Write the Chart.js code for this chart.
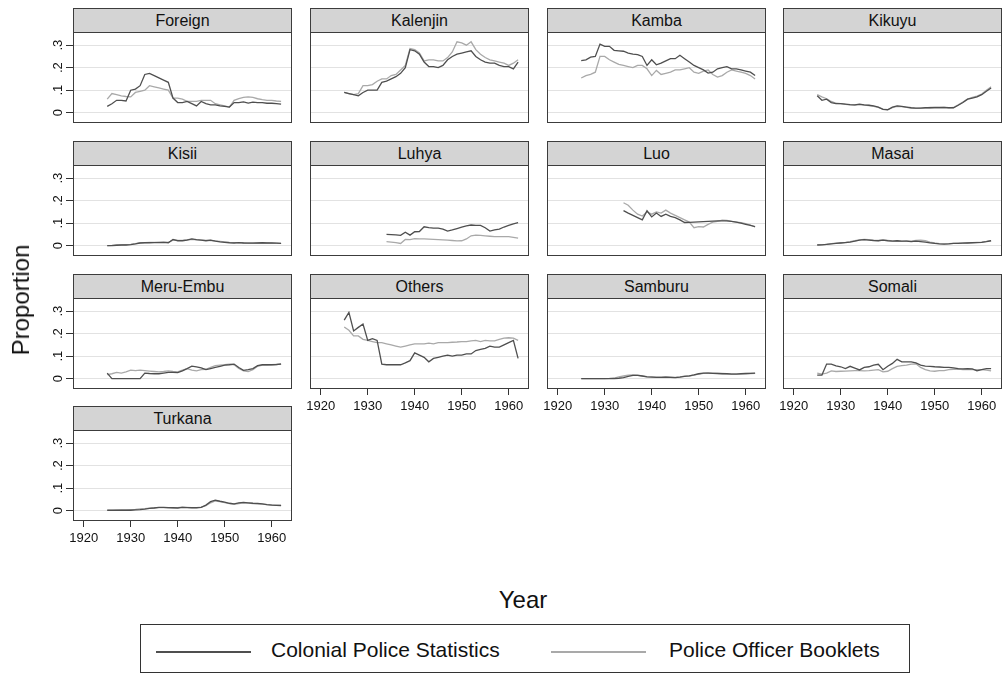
<!DOCTYPE html>
<html><head><meta charset="utf-8">
<script src="https://cdn.jsdelivr.net/npm/chart.js@4.4.0/dist/chart.umd.min.js"></script>
<style>
body{margin:0;background:#fff;width:1005px;height:675px;overflow:hidden;position:relative;font-family:"Liberation Sans",Arial,Helvetica,sans-serif;color:#111;}
.hdr{position:absolute;box-sizing:border-box;background:#d4d4d4;border:1px solid #3c3c3c;text-align:center;font-size:16px;line-height:23px;color:#111;}
canvas{position:absolute;}
.ttl{position:absolute;font-size:24px;white-space:nowrap;line-height:28px;}
#legend{position:absolute;left:140px;top:624px;width:770px;height:49px;border:1px solid #333;box-sizing:border-box;}
.sw{position:absolute;height:2px;}
.lt{position:absolute;font-size:21px;top:13px;white-space:nowrap;}
</style>
</head><body>
<script>
// ---------------- data ----------------
const years = [1925,1926,1927,1928,1929,1930,1931,1932,1933,1934,1935,1936,1937,1938,1939,1940,1941,1942,1943,1944,1945,1946,1947,1948,1949,1950,1951,1952,1953,1954,1955,1956,1957,1958,1959,1960,1961,1962];
const panelNames = ["Foreign","Kalenjin","Kamba","Kikuyu","Kisii","Luhya","Luo","Masai","Meru-Embu","Others","Samburu","Somali","Turkana"];
const seriesNames = ["Colonial Police Statistics","Police Officer Booklets"];
const xTickValues = [1920,1930,1940,1950,1960];
const xTickLabels = ["1920","1930","1940","1950","1960"];
const yTickValues = [0,0.1,0.2,0.3];
const yTickLabels = ["0",".1",".2",".3"];
const xTitle = "Year";
const yTitle = "Proportion";

const foreignCPS = [.028,.04,.055,.055,.052,.10,.105,.12,.17,.175,.165,.155,.145,.135,.065,.045,.045,.05,.04,.03,.05,.04,.035,.035,.03,.028,.025,.045,.045,.048,.043,.047,.045,.045,.042,.042,.04,.038];
const foreignPOB = [.06,.085,.08,.075,.072,.07,.09,.095,.10,.12,.115,.11,.105,.10,.065,.065,.06,.05,.05,.05,.055,.055,.055,.04,.035,.03,.025,.055,.062,.068,.07,.068,.062,.058,.055,.055,.052,.05];
const kalenjinCPS = [.09,.085,.08,.075,.09,.10,.10,.10,.135,.14,.15,.16,.175,.20,.28,.275,.26,.225,.205,.205,.20,.21,.235,.25,.26,.265,.27,.275,.25,.235,.225,.22,.22,.21,.205,.205,.195,.225];
const kalenjinPOB = [.09,.085,.08,.085,.12,.12,.125,.14,.15,.15,.165,.17,.19,.21,.285,.28,.265,.23,.235,.235,.23,.23,.245,.27,.315,.31,.30,.315,.28,.26,.245,.235,.23,.225,.22,.21,.22,.235];
const kambaCPS = [.231,.235,.247,.25,.305,.295,.295,.277,.275,.273,.265,.26,.258,.25,.21,.235,.213,.22,.23,.24,.24,.255,.24,.225,.21,.20,.19,.176,.18,.195,.20,.205,.195,.195,.19,.185,.18,.165];
const kambaPOB = [.154,.165,.17,.18,.25,.25,.235,.225,.215,.21,.205,.20,.21,.21,.195,.165,.188,.17,.175,.18,.19,.19,.195,.20,.18,.175,.185,.19,.17,.158,.165,.18,.19,.185,.18,.175,.165,.15];
const kikuyuCPS = [.075,.055,.06,.045,.04,.04,.038,.036,.035,.038,.035,.033,.03,.025,.015,.013,.025,.03,.028,.025,.022,.02,.02,.022,.022,.023,.023,.024,.022,.022,.033,.045,.06,.065,.07,.08,.095,.11];
const kikuyuPOB = [.08,.07,.062,.05,.042,.04,.037,.035,.034,.036,.034,.032,.028,.024,.016,.014,.022,.028,.027,.024,.02,.019,.02,.021,.023,.022,.022,.023,.021,.023,.035,.047,.06,.068,.074,.083,.10,.115];
const kisiiCPS = [0,0,.002,.003,.003,.005,.008,.012,.013,.013,.014,.014,.015,.013,.028,.022,.022,.025,.03,.027,.025,.022,.025,.02,.017,.015,.013,.012,.014,.012,.011,.011,.012,.013,.012,.012,.011,.01];
const kisiiPOB = [0,.001,.003,.004,.005,.006,.009,.013,.014,.015,.015,.016,.016,.015,.025,.024,.024,.027,.028,.026,.025,.024,.023,.021,.019,.017,.015,.014,.013,.013,.012,.012,.012,.012,.012,.011,.011,.01];
const luhyaCPS = [null,null,null,null,null,null,null,null,null,.05,.049,.048,.046,.06,.047,.062,.063,.084,.08,.078,.078,.074,.065,.07,.076,.082,.088,.092,.09,.09,.08,.065,.07,.074,.083,.09,.097,.102];
const luhyaPOB = [null,null,null,null,null,null,null,null,null,.018,.016,.014,.01,.028,.027,.031,.03,.03,.029,.028,.027,.026,.025,.023,.021,.022,.03,.044,.047,.046,.044,.042,.04,.04,.04,.04,.037,.034];
const luoCPS = [null,null,null,null,null,null,null,null,null,.156,.145,.135,.125,.115,.155,.128,.145,.13,.14,.13,.125,.115,.103,.104,.105,.106,.107,.108,.109,.11,.11,.11,.108,.105,.10,.095,.09,.085];
const luoPOB = [null,null,null,null,null,null,null,null,null,.191,.18,.158,.14,.132,.15,.14,.15,.145,.158,.145,.135,.125,.115,.105,.08,.085,.083,.095,.105,.108,.114,.112,.108,.105,.102,.098,.092,.083];
const masaiCPS = [.003,.004,.006,.008,.01,.012,.014,.016,.02,.025,.027,.025,.023,.022,.025,.022,.02,.022,.02,.02,.018,.02,.018,.016,.013,.01,.008,.007,.008,.01,.01,.011,.012,.013,.014,.015,.018,.022];
const masaiPOB = [.004,.005,.006,.009,.011,.013,.015,.018,.022,.026,.028,.027,.024,.023,.026,.024,.021,.02,.019,.021,.02,.024,.025,.022,.016,.012,.009,.008,.009,.01,.011,.012,.013,.014,.015,.016,.019,.023];
const meruCPS = [.025,0,0,0,0,0,0,0,.025,.023,.022,.022,.025,.028,.028,.027,.035,.045,.056,.053,.048,.04,.045,.05,.055,.06,.062,.065,.05,.037,.04,.045,.058,.062,.062,.062,.063,.065];
const meruPOB = [.018,.022,.028,.025,.03,.038,.036,.038,.036,.034,.032,.03,.032,.035,.032,.03,.038,.045,.038,.035,.04,.042,.05,.058,.06,.062,.065,.062,.045,.035,.032,.04,.055,.06,.06,.062,.063,.067];
const othersCPS = [.26,.295,.212,.228,.243,.17,.178,.17,.065,.062,.062,.062,.062,.07,.08,.115,.105,.095,.075,.09,.095,.10,.105,.10,.105,.105,.11,.11,.125,.13,.135,.145,.14,.14,.15,.16,.17,.09];
const othersPOB = [.23,.215,.19,.19,.175,.17,.165,.16,.16,.155,.15,.145,.14,.145,.15,.155,.155,.155,.158,.155,.16,.16,.16,.162,.163,.165,.165,.168,.17,.165,.17,.168,.168,.175,.18,.182,.18,.17];
const samburuCPS = [0,0,0,0,0,0,0,0,.002,.005,.01,.015,.015,.012,.008,.007,.006,.006,.007,.006,.005,.007,.01,.013,.017,.022,.025,.025,.024,.023,.022,.022,.02,.02,.022,.023,.024,.025];
const samburuPOB = [0,0,0,0,0,0,.001,.003,.008,.012,.016,.017,.016,.012,.009,.008,.007,.007,.008,.007,.006,.008,.011,.012,.016,.02,.024,.026,.025,.024,.023,.022,.021,.021,.021,.022,.023,.024];
const somaliCPS = [.016,.016,.065,.065,.057,.053,.045,.055,.047,.039,.05,.053,.06,.064,.04,.055,.068,.086,.075,.075,.075,.07,.06,.056,.055,.053,.052,.05,.05,.048,.045,.044,.045,.044,.035,.04,.045,.045];
const somaliPOB = [.025,.02,.025,.035,.032,.033,.034,.035,.036,.036,.035,.036,.038,.04,.03,.033,.045,.055,.058,.06,.065,.066,.05,.04,.035,.033,.036,.036,.04,.042,.043,.04,.04,.04,.04,.04,.038,.035];
const turkanaCPS = [.002,.002,.002,.002,.002,.002,.004,.005,.007,.01,.012,.015,.015,.014,.013,.012,.015,.014,.013,.013,.015,.025,.04,.047,.042,.038,.033,.03,.035,.037,.035,.033,.032,.03,.027,.025,.024,.023];
const turkanaPOB = [.001,.001,.002,.003,.004,.005,.006,.008,.009,.011,.013,.014,.014,.013,.013,.014,.016,.015,.014,.014,.016,.022,.035,.043,.04,.036,.031,.028,.032,.035,.034,.032,.031,.029,.027,.026,.025,.024];

const panelSeries = [
  [foreignCPS, foreignPOB],[kalenjinCPS, kalenjinPOB],[kambaCPS, kambaPOB],[kikuyuCPS, kikuyuPOB],
  [kisiiCPS, kisiiPOB],[luhyaCPS, luhyaPOB],[luoCPS, luoPOB],[masaiCPS, masaiPOB],
  [meruCPS, meruPOB],[othersCPS, othersPOB],[samburuCPS, samburuPOB],[somaliCPS, somaliPOB],
  [turkanaCPS, turkanaPOB]
];

// ---------------- layout / style ----------------
const FONT = '"Liberation Sans", Arial, Helvetica, sans-serif';
const colLeft = [73, 310, 547, 783];
const rowTop = [8, 141, 274, 406];
const plotW = 219, hdrH = 24, plotH = 91;
const AX_L = 40, AX_B = 30, PAD_R = 20;
const xMin = 1917.72, xMax = 1964.32;
const yMin = -0.0458, yMax = 0.3586;
const lineColors = ['#4f4f4f', '#a9a9a9'];

const framePlugin = {
  id: 'frame',
  afterDraw(c) {
    const a = c.chartArea, ctx = c.ctx;
    ctx.save();
    ctx.strokeStyle = '#3c3c3c';
    ctx.lineWidth = 1;
    ctx.strokeRect(Math.round(a.left) + 0.5, Math.round(a.top) + 0.5, Math.round(a.right - a.left) - 1, Math.round(a.bottom - a.top) - 1);
    ctx.restore();
  }
};

panelNames.forEach((name, i) => {
  const col = i % 4, row = Math.floor(i / 4);
  const left = colLeft[col], top = rowTop[row];
  const bottomPanel = (row === 2 && col > 0) || row === 3;
  const leftPanel = col === 0;

  const h = document.createElement('div');
  h.className = 'hdr';
  h.style.left = left + 'px';
  h.style.top = top + 'px';
  h.style.width = plotW + 'px';
  h.style.height = (hdrH + 1) + 'px';
  h.textContent = name;
  document.body.appendChild(h);

  const cv = document.createElement('canvas');
  const cw = AX_L + plotW + PAD_R, ch = plotH + 1 + AX_B;
  cv.width = cw; cv.height = ch;
  cv.style.width = cw + 'px'; cv.style.height = ch + 'px';
  cv.style.left = (left - AX_L) + 'px';
  cv.style.top = (top + hdrH - 1) + 'px';
  document.body.appendChild(cv);

  const [cps, pob] = panelSeries[i];
  new Chart(cv, {
    type: 'line',
    data: {
      datasets: [
        { label: seriesNames[0], data: years.map((y, k) => ({x: y, y: cps[k]})), borderColor: lineColors[0], borderWidth: 1.3, pointRadius: 0, tension: 0, spanGaps: false },
        { label: seriesNames[1], data: years.map((y, k) => ({x: y, y: pob[k]})), borderColor: lineColors[1], borderWidth: 1.3, pointRadius: 0, tension: 0, spanGaps: false }
      ]
    },
    options: {
      responsive: false, animation: false, devicePixelRatio: 1,
      layout: { padding: { top: 1, right: PAD_R, left: 0, bottom: 0 } },
      plugins: { legend: { display: false }, tooltip: { enabled: false } },
      scales: {
        x: {
          type: 'linear', min: xMin, max: xMax,
          afterBuildTicks: s => { s.ticks = xTickValues.map(v => ({value: v})); },
          afterFit: s => { s.height = AX_B; s.paddingLeft = 0; s.paddingRight = 0; s.paddingTop = 0; s.paddingBottom = 0; },
          grid: { display: bottomPanel, drawOnChartArea: false, drawTicks: true, tickLength: 6, tickColor: '#333', color: '#333' },
          border: { display: false },
          ticks: { display: bottomPanel, autoSkip: false, maxRotation: 0, minRotation: 0, padding: 4, color: '#111', font: { family: FONT, size: 13 }, callback: (v, idx) => xTickLabels[idx] }
        },
        y: {
          type: 'linear', min: yMin, max: yMax,
          afterBuildTicks: s => { s.ticks = yTickValues.map(v => ({value: v})); },
          afterFit: s => { s.width = AX_L; s.paddingTop = 0; s.paddingBottom = 0; s.paddingLeft = 0; s.paddingRight = 0; },
          grid: { color: '#e2e2e2', lineWidth: 1, drawTicks: leftPanel, tickLength: 7, tickColor: '#333' },
          border: { display: false },
          ticks: { display: leftPanel, minRotation: 90, maxRotation: 90, crossAlign: 'center', padding: 2, color: '#111', font: { family: FONT, size: 13 }, callback: (v, idx) => yTickLabels[idx] }
        }
      }
    },
    plugins: [framePlugin]
  });
});

// titles
const xt = document.createElement('div');
xt.className = 'ttl'; xt.textContent = xTitle;
xt.style.left = '523px'; xt.style.top = '600px';
xt.style.transform = 'translate(-50%,-50%)';
document.body.appendChild(xt);
const yt = document.createElement('div');
yt.className = 'ttl'; yt.textContent = yTitle;
yt.style.left = '21px'; yt.style.top = '300px';
yt.style.transform = 'translate(-50%,-50%) rotate(-90deg)';
document.body.appendChild(yt);

// legend
const lg = document.createElement('div'); lg.id = 'legend'; document.body.appendChild(lg);
const swLeft = [15, 410], txtLeft = [130, 528];
seriesNames.forEach((s, k) => {
  const sw = document.createElement('span'); sw.className = 'sw';
  sw.style.left = swLeft[k] + 'px'; sw.style.top = '26px'; sw.style.width = '95px'; sw.style.background = lineColors[k];
  lg.appendChild(sw);
  const t = document.createElement('span'); t.className = 'lt'; t.textContent = s;
  t.style.left = txtLeft[k] + 'px';
  lg.appendChild(t);
});
</script>
</body></html>
